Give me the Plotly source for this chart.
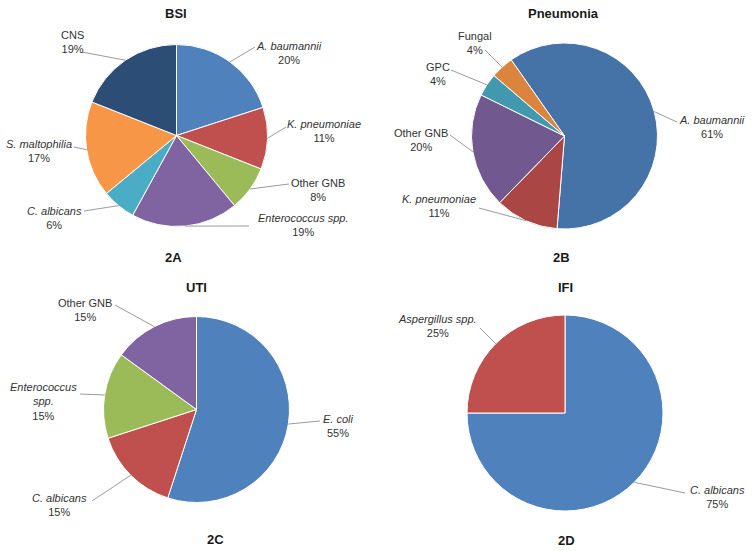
import math
import plotly.graph_objects as go

W, H = 754, 551

# ---------------- data ----------------
bsi_labels = ["A. baumannii", "K. pneumoniae", "Other GNB", "Enterococcus spp.",
              "C. albicans", "S. maltophilia", "CNS"]
bsi_italic = [True, True, False, True, True, True, False]
bsi_values = [20, 11, 8, 19, 6, 17, 19]

pneu_labels = ["A. baumannii", "K. pneumoniae", "Other GNB", "GPC", "Fungal"]
pneu_italic = [True, True, False, False, False]
pneu_values = [61, 11, 20, 4, 4]

uti_labels = ["E. coli", "C. albicans", "Enterococcus spp.", "Other GNB"]
uti_italic = [True, True, True, False]
uti_values = [55, 15, 15, 15]

ifi_labels = ["C. albicans", "Aspergillus spp."]
ifi_italic = [True, True]
ifi_values = [75, 25]

titles = ["BSI", "Pneumonia", "UTI", "IFI"]
panel_tags = ["2A", "2B", "2C", "2D"]

# ---------------- styles / layout (pixels) ----------------
bsi_colors = ["#4F81BD", "#C0504D", "#9BBB59", "#8064A2", "#4BACC6", "#F79646", "#2C4D75"]
pneu_colors = ["#4572A7", "#AA4643", "#71588F", "#4198AF", "#DB843D"]
uti_colors = ["#4F81BD", "#C0504D", "#9BBB59", "#8064A2"]
ifi_colors = ["#4F81BD", "#C0504D"]

# pie centre x, centre y, radius, start rotation
pie_geom = [(176.5, 135.5, 91, 0), (564.5, 136, 93, -35),
            (196.5, 409.5, 93, 0), (565, 413, 98, 0)]
title_pos = [(176, 13), (563, 13), (196, 287), (565, 287)]
tag_pos = [(173, 257), (561, 257), (215, 539), (566, 540)]

# label block centre and leader end point for each slice
bsi_lab_pos = [(289, 52.5), (324, 131.5), (318, 189.5), (303, 225.5), (54, 217.5), (39, 150.5), (72, 42)]
bsi_lead_end = [(255, 47), (286, 127), (289, 184), (249, 226), (84, 211), (74, 147), (82, 52)]
pneu_lab_pos = [(712, 127), (439, 205.5), (421, 140), (438, 74.5), (475, 42.5)]
pneu_lead_end = [(677, 122), (479, 208), (450, 135), (451, 70), (485, 50)]
uti_lab_pos = [(338, 426), (59, 505), (43, 401.5), (85, 310)]
uti_lead_end = [(320, 421), (92, 501), (80, 394), (115, 305)]
ifi_lab_pos = [(717, 496.5), (437, 326)]
ifi_lead_end = [(685, 493), (480, 328)]

panels = [
    (bsi_labels, bsi_italic, bsi_values, bsi_colors, bsi_lab_pos, bsi_lead_end, False),
    (pneu_labels, pneu_italic, pneu_values, pneu_colors, pneu_lab_pos, pneu_lead_end, False),
    (uti_labels, uti_italic, uti_values, uti_colors, uti_lab_pos, uti_lead_end, True),
    (ifi_labels, ifi_italic, ifi_values, ifi_colors, ifi_lab_pos, ifi_lead_end, False),
]

FONT = "Liberation Sans, Arial, sans-serif"


def px(x):
    return x / W


def py(y):
    return 1 - y / H


fig = go.Figure()
annotations = []
shapes = []

for i, (labels, italic, values, colors, lab_pos, lead_end, wrap) in enumerate(panels):
    cx, cy, r, rot = pie_geom[i]
    fig.add_trace(go.Pie(
        labels=labels, values=values, sort=False, direction="clockwise",
        rotation=rot, textinfo="none", showlegend=False,
        marker=dict(colors=colors, line=dict(color="white", width=1)),
        domain=dict(x=[px(cx - r), px(cx + r)], y=[py(cy + r), py(cy - r)]),
        hovertemplate="%{label}: %{value}%<extra></extra>",
    ))
    total = sum(values)
    cum = 0
    for j, (lab, it, v) in enumerate(zip(labels, italic, values)):
        mid = rot + 360 * (cum + v / 2) / total
        cum += v
        a = math.radians(mid)
        ex, ey = cx + r * math.sin(a), cy - r * math.cos(a)
        name = lab
        if wrap and " " in lab and it and "spp" in lab:
            name = lab.replace(" ", "<br>")
        name = f"<i>{name}</i>" if it else name
        txt = f"{name}<br>{v}%"
        lx, ly = lab_pos[j]
        annotations.append(dict(
            x=px(lx), y=py(ly), xref="paper", yref="paper", text=txt,
            showarrow=False, xanchor="center", yanchor="middle", align="center",
            font=dict(family=FONT, size=11, color="#333333"),
        ))
        qx, qy = lead_end[j]
        shapes.append(dict(type="line", xref="paper", yref="paper",
                           x0=px(ex), y0=py(ey), x1=px(qx), y1=py(qy),
                           line=dict(color="#808080", width=0.8)))
    tx, ty = title_pos[i]
    annotations.append(dict(x=px(tx), y=py(ty), xref="paper", yref="paper",
                            text=f"<b>{titles[i]}</b>", showarrow=False,
                            xanchor="center", yanchor="middle",
                            font=dict(family=FONT, size=13, color="#1a1a1a")))
    gx, gy = tag_pos[i]
    annotations.append(dict(x=px(gx), y=py(gy), xref="paper", yref="paper",
                            text=f"<b>{panel_tags[i]}</b>", showarrow=False,
                            xanchor="center", yanchor="middle",
                            font=dict(family=FONT, size=13, color="#1a1a1a")))

fig.update_layout(
    width=W, height=H, margin=dict(l=0, r=0, t=0, b=0, pad=0),
    paper_bgcolor="white", plot_bgcolor="white",
    annotations=annotations, shapes=shapes,
)

fig.write_html("out.html")
